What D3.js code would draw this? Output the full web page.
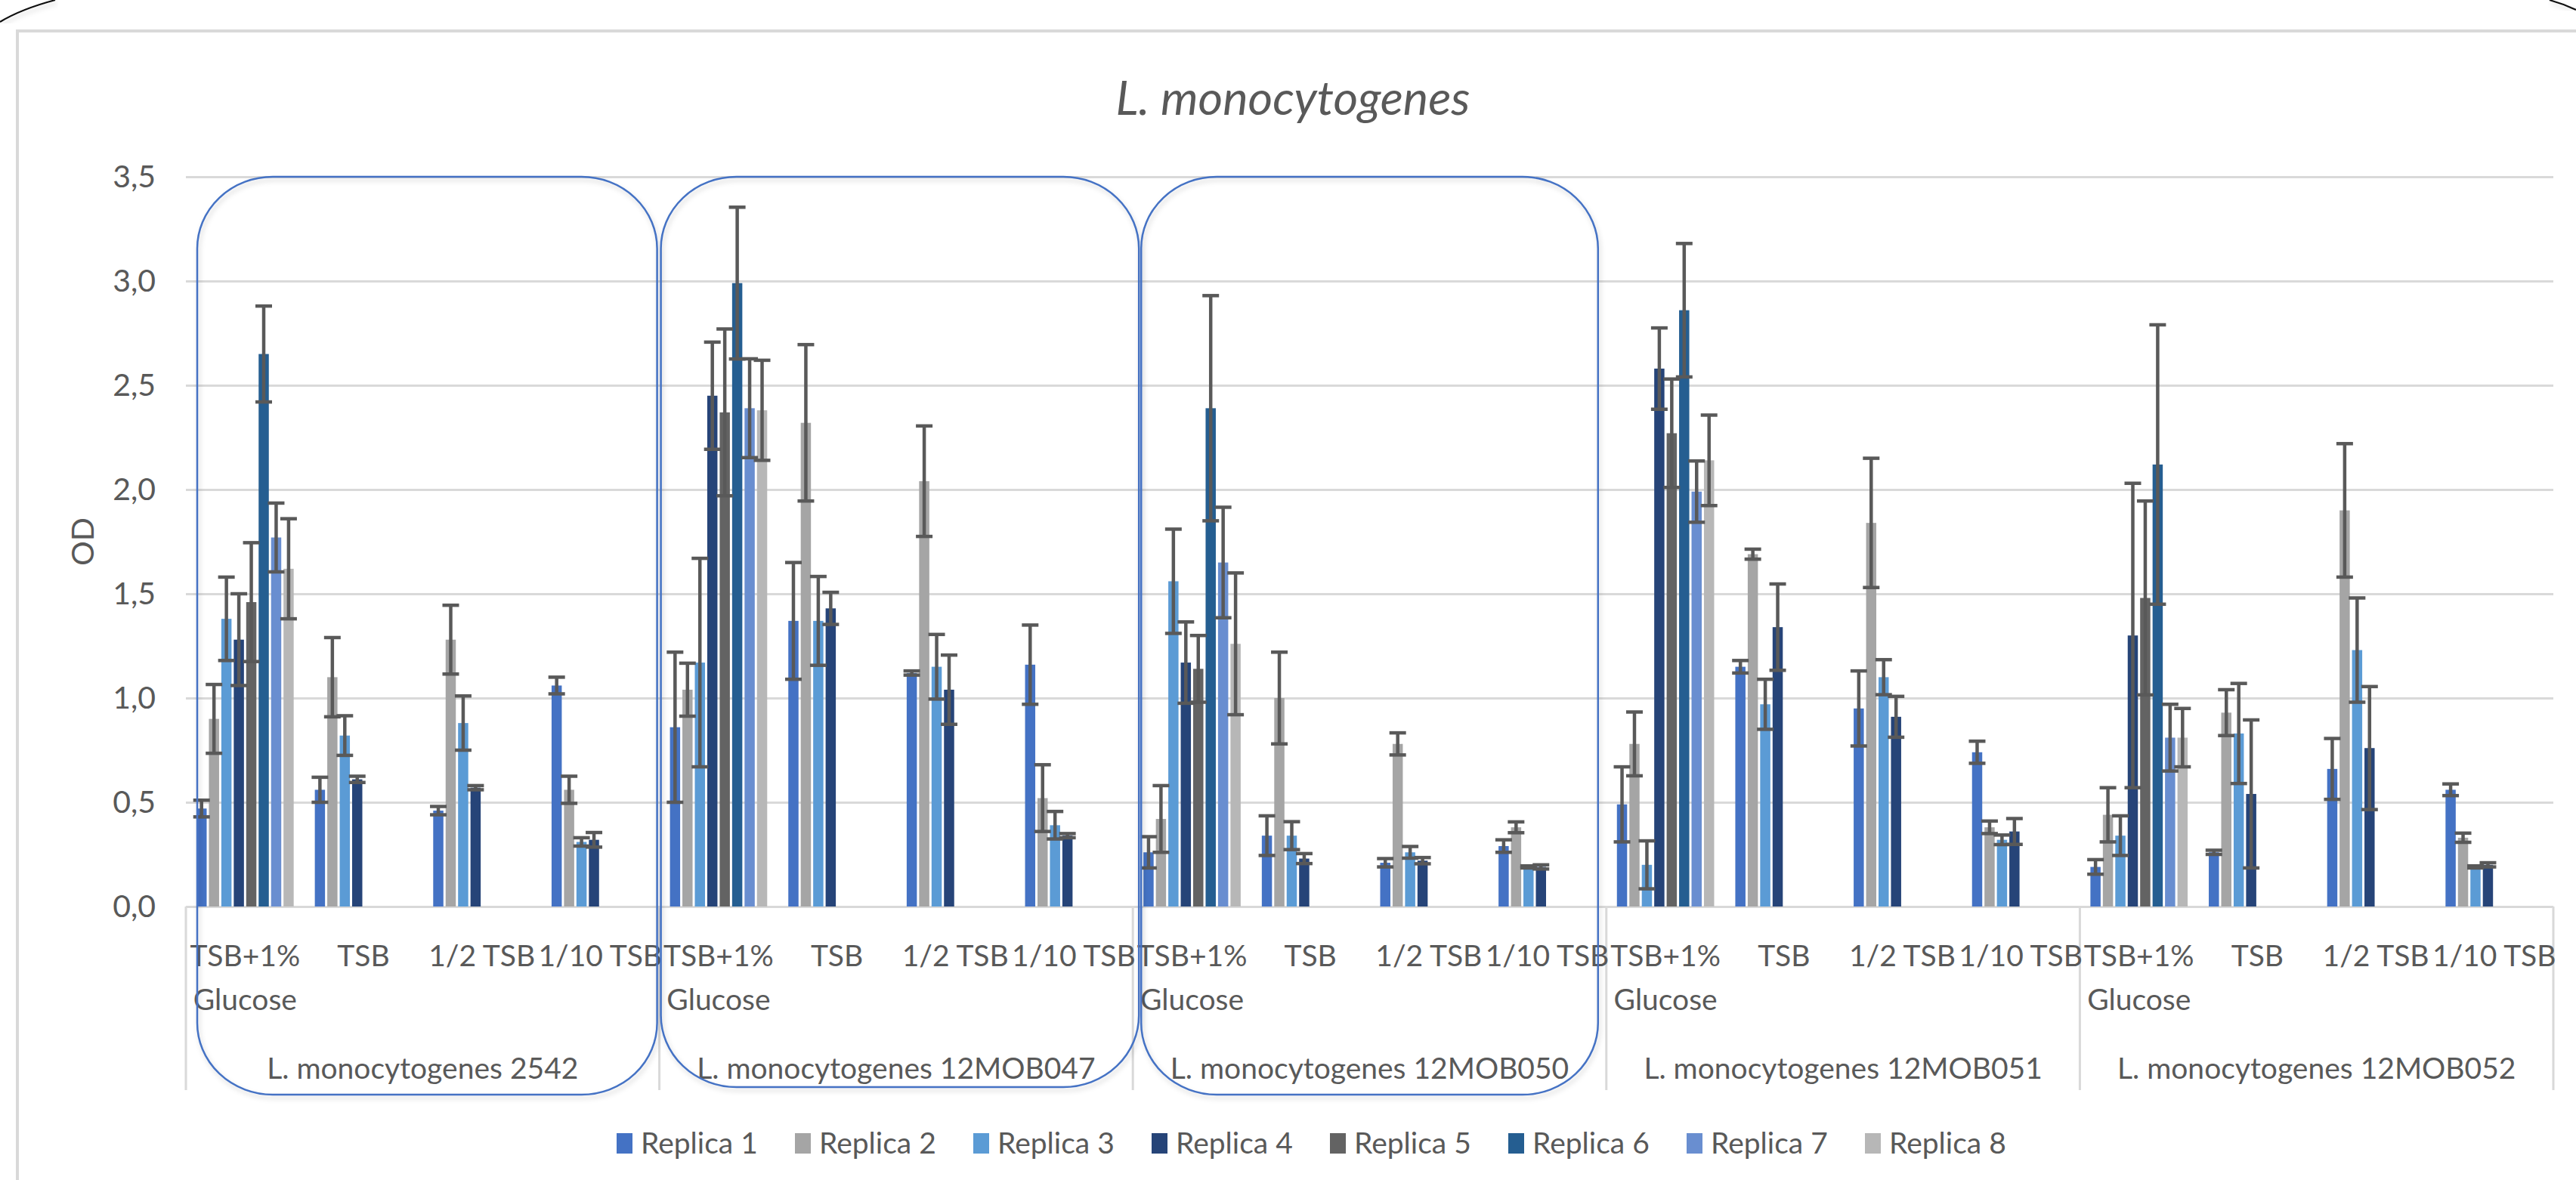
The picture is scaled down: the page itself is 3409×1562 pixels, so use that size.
<!DOCTYPE html>
<html>
<head>
<meta charset="utf-8">
<script src="https://cdn.jsdelivr.net/npm/d3@7"></script>
<style>
  body { margin: 0; background: #ffffff; }
  svg { display: block; }
  text { font-family: Lato, "Open Sans", sans-serif; fill: #595959; }
</style>
</head>
<body>
<svg id="chart" width="3409" height="1562"></svg>
<script>
// ---------------- DATA ----------------
const chartTitle = "L. monocytogenes";
const yAxisTitle = "OD";
const groups = ["L. monocytogenes 2542", "L. monocytogenes 12MOB047", "L. monocytogenes 12MOB050", "L. monocytogenes 12MOB051", "L. monocytogenes 12MOB052"];
const media = [["TSB+1%", "Glucose"], ["TSB"], ["1/2 TSB"], ["1/10 TSB"]];
const series = ["Replica 1", "Replica 2", "Replica 3", "Replica 4", "Replica 5", "Replica 6", "Replica 7", "Replica 8"];
const yTicks = [0, 0.5, 1, 1.5, 2, 2.5, 3, 3.5];
const highlightedGroups = [0, 1, 2];

// values per replica, 20 categories (5 strains x 4 media), null = not measured
const replica1 = [0.47, 0.56, 0.46, 1.06,  0.86, 1.37, 1.12, 1.16,  0.26, 0.34, 0.21, 0.29,  0.49, 1.15, 0.95, 0.74,  0.19, 0.26, 0.66, 0.56];
const replica1Err = [0.04, 0.06, 0.02, 0.04,  0.36, 0.28, 0.01, 0.19,  0.075, 0.095, 0.02, 0.03,  0.18, 0.03, 0.18, 0.053,  0.035, 0.01, 0.146, 0.028];
const replica2 = [0.90, 1.10, 1.28, 0.56,  1.04, 2.32, 2.04, 0.52,  0.42, 1.00, 0.78, 0.38,  0.78, 1.69, 1.84, 0.38,  0.44, 0.93, 1.90, 0.33];
const replica2Err = [0.165, 0.19, 0.165, 0.065,  0.127, 0.375, 0.265, 0.16,  0.16, 0.22, 0.053, 0.026,  0.153, 0.024, 0.31, 0.03,  0.13, 0.11, 0.32, 0.022];
const replica3 = [1.38, 0.82, 0.88, 0.31,  1.17, 1.37, 1.15, 0.39,  1.56, 0.34, 0.26, 0.19,  0.20, 0.97, 1.10, 0.32,  0.34, 0.83, 1.23, 0.19];
const replica3Err = [0.2, 0.095, 0.13, 0.02,  0.5, 0.213, 0.155, 0.066,  0.25, 0.067, 0.028, 0.005,  0.115, 0.12, 0.084, 0.023,  0.095, 0.24, 0.25, 0.005];
const replica4 = [1.28, 0.61, 0.57, 0.32,  2.45, 1.43, 1.04, 0.34,  1.17, 0.23, 0.22, 0.19,  2.58, 1.34, 0.91, 0.36,  1.30, 0.54, 0.76, 0.20];
const replica4Err = [0.22, 0.015, 0.01, 0.035,  0.257, 0.077, 0.166, 0.01,  0.195, 0.024, 0.015, 0.01,  0.195, 0.207, 0.098, 0.062,  0.73, 0.355, 0.295, 0.01];
const replica5 = [1.46, null, null, null,  2.37, null, null, null,  1.14, null, null, null,  2.27, null, null, null,  1.48, null, null, null];
const replica5Err = [0.285, null, null, null,  0.4, null, null, null,  0.16, null, null, null,  0.26, null, null, null,  0.465, null, null, null];
const replica6 = [2.65, null, null, null,  2.99, null, null, null,  2.39, null, null, null,  2.86, null, null, null,  2.12, null, null, null];
const replica6Err = [0.23, null, null, null,  0.364, null, null, null,  0.54, null, null, null,  0.32, null, null, null,  0.67, null, null, null];
const replica7 = [1.77, null, null, null,  2.39, null, null, null,  1.65, null, null, null,  1.99, null, null, null,  0.81, null, null, null];
const replica7Err = [0.165, null, null, null,  0.237, null, null, null,  0.265, null, null, null,  0.147, null, null, null,  0.16, null, null, null];
const replica8 = [1.62, null, null, null,  2.38, null, null, null,  1.26, null, null, null,  2.14, null, null, null,  0.81, null, null, null];
const replica8Err = [0.24, null, null, null,  0.24, null, null, null,  0.34, null, null, null,  0.217, null, null, null,  0.14, null, null, null];

const seriesValues = [replica1, replica2, replica3, replica4, replica5, replica6, replica7, replica8];
const seriesErrors = [replica1Err, replica2Err, replica3Err, replica4Err, replica5Err, replica6Err, replica7Err, replica8Err];
const colors = ["#4472C4", "#A5A5A5", "#5B9BD5", "#264478", "#636363", "#255E91", "#698ED0", "#B7B7B7"];

// ---------------- LAYOUT ----------------
const W = 3409, H = 1562;
const plot = { left: 246, right: 3379, top: 234, bottom: 1200 };
const svg = d3.select("#chart");
const fmt = d3.formatLocale({ decimal: ",", thousands: ".", grouping: [3], currency: ["", ""] }).format(".1f");

const categories = [];
groups.forEach((g, gi) => media.forEach((m, mi) => categories.push({ key: gi + "-" + mi, group: gi, label: m })));

const x0 = d3.scaleBand().domain(categories.map(c => c.key)).range([plot.left, plot.right]).padding(0);
const x1 = d3.scaleBand().domain(series).range([0, x0.bandwidth()]).paddingInner(0.18).paddingOuter(0.85);
const y = d3.scaleLinear().domain([0, 3.5]).range([plot.bottom, plot.top]);

// shadow filter
const defs = svg.append("defs");
const f = defs.append("filter").attr("id", "sh").attr("x", "-5%").attr("y", "-5%").attr("width", "110%").attr("height", "110%");
f.append("feDropShadow").attr("dx", 2).attr("dy", 4).attr("stdDeviation", 3).attr("flood-color", "#000").attr("flood-opacity", 0.18);

// slide corner arcs
svg.append("path").attr("d", "M0,29 Q28,12 73,0").attr("fill", "none").attr("stroke", "#111").attr("stroke-width", 2.2).attr("filter", "url(#sh)");
svg.append("path").attr("d", "M3374,0 Q3392,5 3409,13").attr("fill", "none").attr("stroke", "#111").attr("stroke-width", 2.2).attr("filter", "url(#sh)");

// chart area frame (top and left edges visible)
svg.append("path").attr("d", `M23,${H} L23,41 L${W},41`).attr("fill", "none").attr("stroke", "#d9d9d9").attr("stroke-width", 4);

// title
svg.append("text").attr("x", 1711).attr("y", 152).attr("text-anchor", "middle")
  .style("font-size", "63px").style("font-style", "italic").text(chartTitle);

// gridlines
const grid = svg.append("g").attr("transform", `translate(${plot.left},0)`)
  .call(d3.axisLeft(y).tickValues(yTicks).tickSize(-(plot.right - plot.left)).tickFormat(""));
grid.select(".domain").remove();
grid.selectAll("line").attr("stroke", "#d9d9d9").attr("stroke-width", 3);

// y labels
const yAx = svg.append("g").attr("transform", `translate(206,0)`)
  .call(d3.axisLeft(y).tickValues(yTicks).tickSize(0).tickPadding(0).tickFormat(fmt));
yAx.select(".domain").remove();
yAx.selectAll("text").attr("fill", "#595959").style("font-size", "41px").style("font-family", "Lato, 'Open Sans', sans-serif");

// y title
svg.append("text").attr("transform", "translate(124,717) rotate(-90)").attr("text-anchor", "middle")
  .style("font-size", "41px").text(yAxisTitle);

// bars
const barsG = svg.append("g");
series.forEach((s, si) => {
  const pts = categories.map((c, ci) => ({ c, v: seriesValues[si][ci], e: seriesErrors[si][ci] })).filter(d => d.v != null);
  barsG.append("g").selectAll("rect").data(pts).join("rect")
    .attr("x", d => x0(d.c.key) + x1(s))
    .attr("y", d => y(d.v))
    .attr("width", x1.bandwidth())
    .attr("height", d => y(0) - y(d.v))
    .attr("fill", colors[si]);
});

// error bars
const errG = svg.append("g").attr("stroke", "#595959").attr("stroke-width", 4.5);
const capW = 22;
series.forEach((s, si) => {
  categories.forEach((c, ci) => {
    const v = seriesValues[si][ci], e = seriesErrors[si][ci];
    if (v == null || e == null) return;
    const cx = x0(c.key) + x1(s) + x1.bandwidth() / 2;
    const yt = y(v + e), yb = y(v - e);
    errG.append("line").attr("x1", cx).attr("x2", cx).attr("y1", yt).attr("y2", yb);
    errG.append("line").attr("x1", cx - capW / 2).attr("x2", cx + capW / 2).attr("y1", yt).attr("y2", yt);
    errG.append("line").attr("x1", cx - capW / 2).attr("x2", cx + capW / 2).attr("y1", yb).attr("y2", yb);
  });
});

// category axis: group separators
const groupEdges = groups.map((g, gi) => x0(gi + "-0")).concat([plot.right]);
svg.append("g").selectAll("line").data(groupEdges).join("line")
  .attr("x1", d => d).attr("x2", d => d).attr("y1", plot.bottom).attr("y2", 1443)
  .attr("stroke", "#d9d9d9").attr("stroke-width", 3);

// category labels
const catG = svg.append("g").style("font-size", "39px").attr("text-anchor", "middle");
categories.forEach(c => {
  const t = catG.append("text").attr("x", x0(c.key) + x0.bandwidth() / 2).attr("y", 1279);
  c.label.forEach((ln, li) => t.append("tspan").attr("x", x0(c.key) + x0.bandwidth() / 2).attr("dy", li === 0 ? 0 : 58).text(ln));
});

// group labels
svg.append("g").style("font-size", "39px").attr("text-anchor", "middle")
  .selectAll("text").data(groups).join("text")
  .attr("x", (g, gi) => (groupEdges[gi] + groupEdges[gi + 1]) / 2)
  .attr("y", 1428).text(g => g);

// highlight rounded boxes around first three strains
const boxAdjust = [[15, -3, 1449], [2, 8, 1439], [11, -11, 1449]];
highlightedGroups.forEach((gi, k) => {
  const left = groupEdges[gi] + boxAdjust[k][0];
  const right = groupEdges[gi + 1] + boxAdjust[k][1];
  svg.append("rect").attr("x", left).attr("y", y(3.5)).attr("width", right - left)
    .attr("height", boxAdjust[k][2] - y(3.5)).attr("rx", 100).attr("ry", 95)
    .attr("fill", "none").attr("stroke", "#4472C4").attr("stroke-width", 2.5).attr("filter", "url(#sh)");
});

// legend
const lg = d3.scaleBand().domain(series).range([816, 816 + 8 * 236]);
const legend = svg.append("g").selectAll("g").data(series).join("g")
  .attr("transform", s => `translate(${lg(s)},0)`);
legend.append("rect").attr("x", 0).attr("y", 1500).attr("width", 21).attr("height", 27).attr("fill", (s, i) => colors[i]);
legend.append("text").attr("x", 32).attr("y", 1527).style("font-size", "39px").text(s => s);
</script>
</body>
</html>
